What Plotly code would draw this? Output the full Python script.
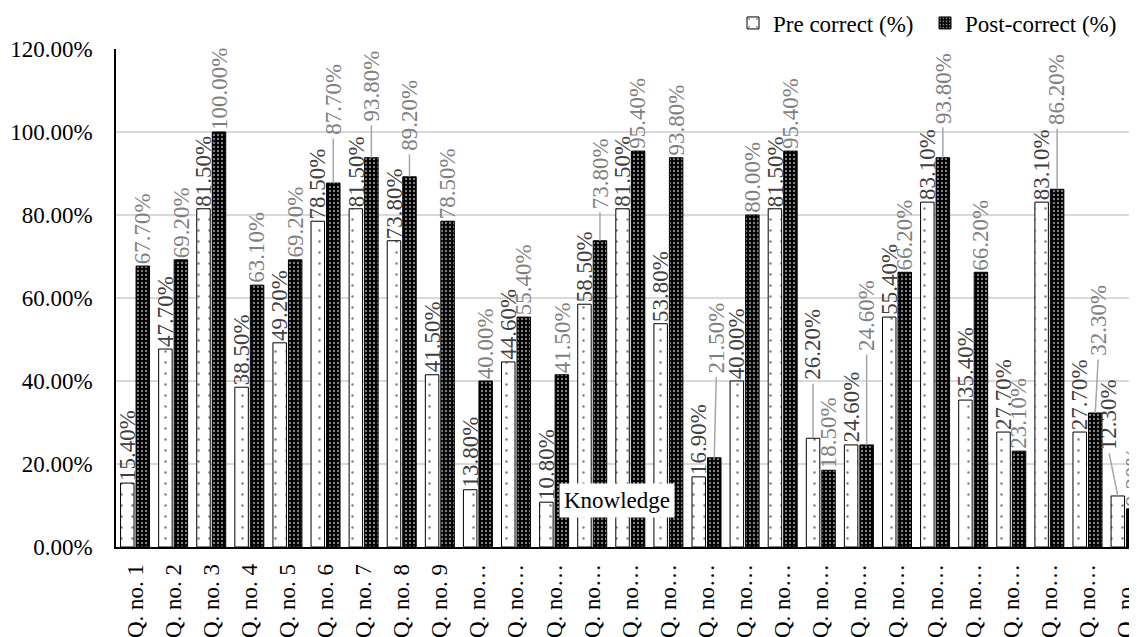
import plotly.graph_objects as go

# ---------------- data ----------------
categories = [f"Q. no. {i}" for i in range(1, 28)]
tick_labels = [f"Q. no. {i}" for i in range(1, 10)] + ["Q. no…"] * 18
pre_correct = [15.4, 47.7, 81.5, 38.5, 49.2, 78.5, 81.5, 73.8, 41.5, 13.8, 44.6, 10.8, 58.5, 81.5,
               53.8, 16.9, 40.0, 81.5, 26.2, 24.6, 55.4, 83.1, 35.4, 27.7, 83.1, 27.7, 12.3]
post_correct = [67.7, 69.2, 100.0, 63.1, 69.2, 87.7, 93.8, 89.2, 78.5, 40.0, 55.4, 41.5, 73.8, 95.4,
                93.8, 21.5, 80.0, 95.4, 18.5, 24.6, 66.2, 93.8, 66.2, 23.1, 86.2, 32.3, 9.2]
series_names = ["Pre correct (%)", "Post-correct (%)"]
y_ticks = [0, 20, 40, 60, 80, 100, 120]

# label displacement (pixels) used by the data-label leader lines (style, not data)
pre_lift = {19: 56, 27: 44}
pre_shift = {27: -9}
post_lift = {6: 46, 7: 34, 8: 24, 13: 30, 16: 82, 20: 92, 22: 32, 25: 62, 26: 55}
post_shift = {16: 2, 26: 3}

FONT = "Liberation Serif, Times New Roman, serif"
FS = 23
BARGAP = 0.186
GROUPGAP = 0.13
# the page body has an 8px margin; the figure is sized to fit the window
OFF = 8
W, H = 1137 - OFF, 637 - OFF
L, R, T, B = 108, 0, 41, 90
PW, PH = W - L - R, H - T - B
PLOT_LEFT, PLOT_ZERO = OFF + L, OFF + H - B   # page coordinates of plot left / baseline

fig = go.Figure()
fig.add_trace(go.Bar(
    name=series_names[0], x=categories, y=[v / 100 for v in pre_correct],
    marker=dict(color="white", line=dict(color="black", width=1),
                pattern=dict(shape=".", fgcolor="black", bgcolor="white", size=11, solidity=0.04)),
    hoverinfo="skip"))
fig.add_trace(go.Bar(
    name=series_names[1], x=categories, y=[v / 100 for v in post_correct],
    marker=dict(color="black", line=dict(color="black", width=1),
                pattern=dict(shape=".", fgcolor="white", bgcolor="black", size=4, solidity=0.28)),
    hoverinfo="skip"))

# data labels (placed from the data values)
half = (1 - BARGAP) / 4.0
for series, vals, lifts, shifts, col in (
        (0, pre_correct, pre_lift, pre_shift, "#404040"),
        (1, post_correct, post_lift, post_shift, "#7f7f7f")):
    for i, v in enumerate(vals):
        idx = i + 1
        xpos = i + (-half if series == 0 else half)
        lift = lifts.get(idx, 0)
        shift = shifts.get(idx, 0)
        if lift:
            fig.add_annotation(x=xpos, y=v / 100, xref="x", yref="y", text="",
                               showarrow=True, arrowhead=0, arrowwidth=1.5,
                               arrowcolor="#a6a6a6", ax=shift, ay=-lift,
                               standoff=0, startstandoff=0)
        fig.add_annotation(x=xpos, y=v / 100, xref="x", yref="y", text=f"{v:.2f}%",
                           textangle=-90, font=dict(family=FONT, size=FS, color=col),
                           yanchor="bottom", xanchor="center", borderpad=0,
                           showarrow=False, yshift=1 + lift, xshift=shift)

fig.add_annotation(x=(617 - PLOT_LEFT) / PW, y=(PLOT_ZERO - 500) / PH, xref="paper", yref="paper",
                   text="Knowledge", showarrow=False, bgcolor="white", borderpad=4,
                   xanchor="center", yanchor="middle",
                   font=dict(family=FONT, size=FS, color="black"))

fig.update_layout(
    width=W, height=H,
    margin=dict(l=L, r=R, t=T, b=B, autoexpand=False),
    paper_bgcolor="white", plot_bgcolor="white",
    barmode="group", bargap=BARGAP, bargroupgap=GROUPGAP,
    font=dict(family=FONT, size=FS, color="black"),
    legend=dict(orientation="h", x=(733 - PLOT_LEFT) / PW, xanchor="left",
                y=(PLOT_ZERO - 23) / PH, yanchor="middle",
                font=dict(family=FONT, size=FS, color="black"),
                itemwidth=30, tracegroupgap=0, bgcolor="rgba(0,0,0,0)",
                entrywidth=147, entrywidthmode="pixels"),
    showlegend=True,
)
fig.update_xaxes(
    type="category", tickmode="array", tickvals=categories, ticktext=tick_labels,
    tickangle=-90, range=[-0.5, 26.3], showline=True, linecolor="black", linewidth=1.5,
    showgrid=False, ticks="", ticklabelstandoff=6, automargin=False,
    tickfont=dict(family=FONT, size=FS, color="black"))
fig.update_yaxes(
    range=[0, 1.2], tickmode="array", tickvals=[v / 100 for v in y_ticks], tickformat=".2%",
    showline=True, linecolor="black", linewidth=1.5, showgrid=True, gridcolor="#d9d9d9",
    gridwidth=1.5, zeroline=False, ticks="", ticklabelstandoff=17, automargin=False,
    tickfont=dict(family=FONT, size=FS, color="black"))

fig.write_html("out.html")
